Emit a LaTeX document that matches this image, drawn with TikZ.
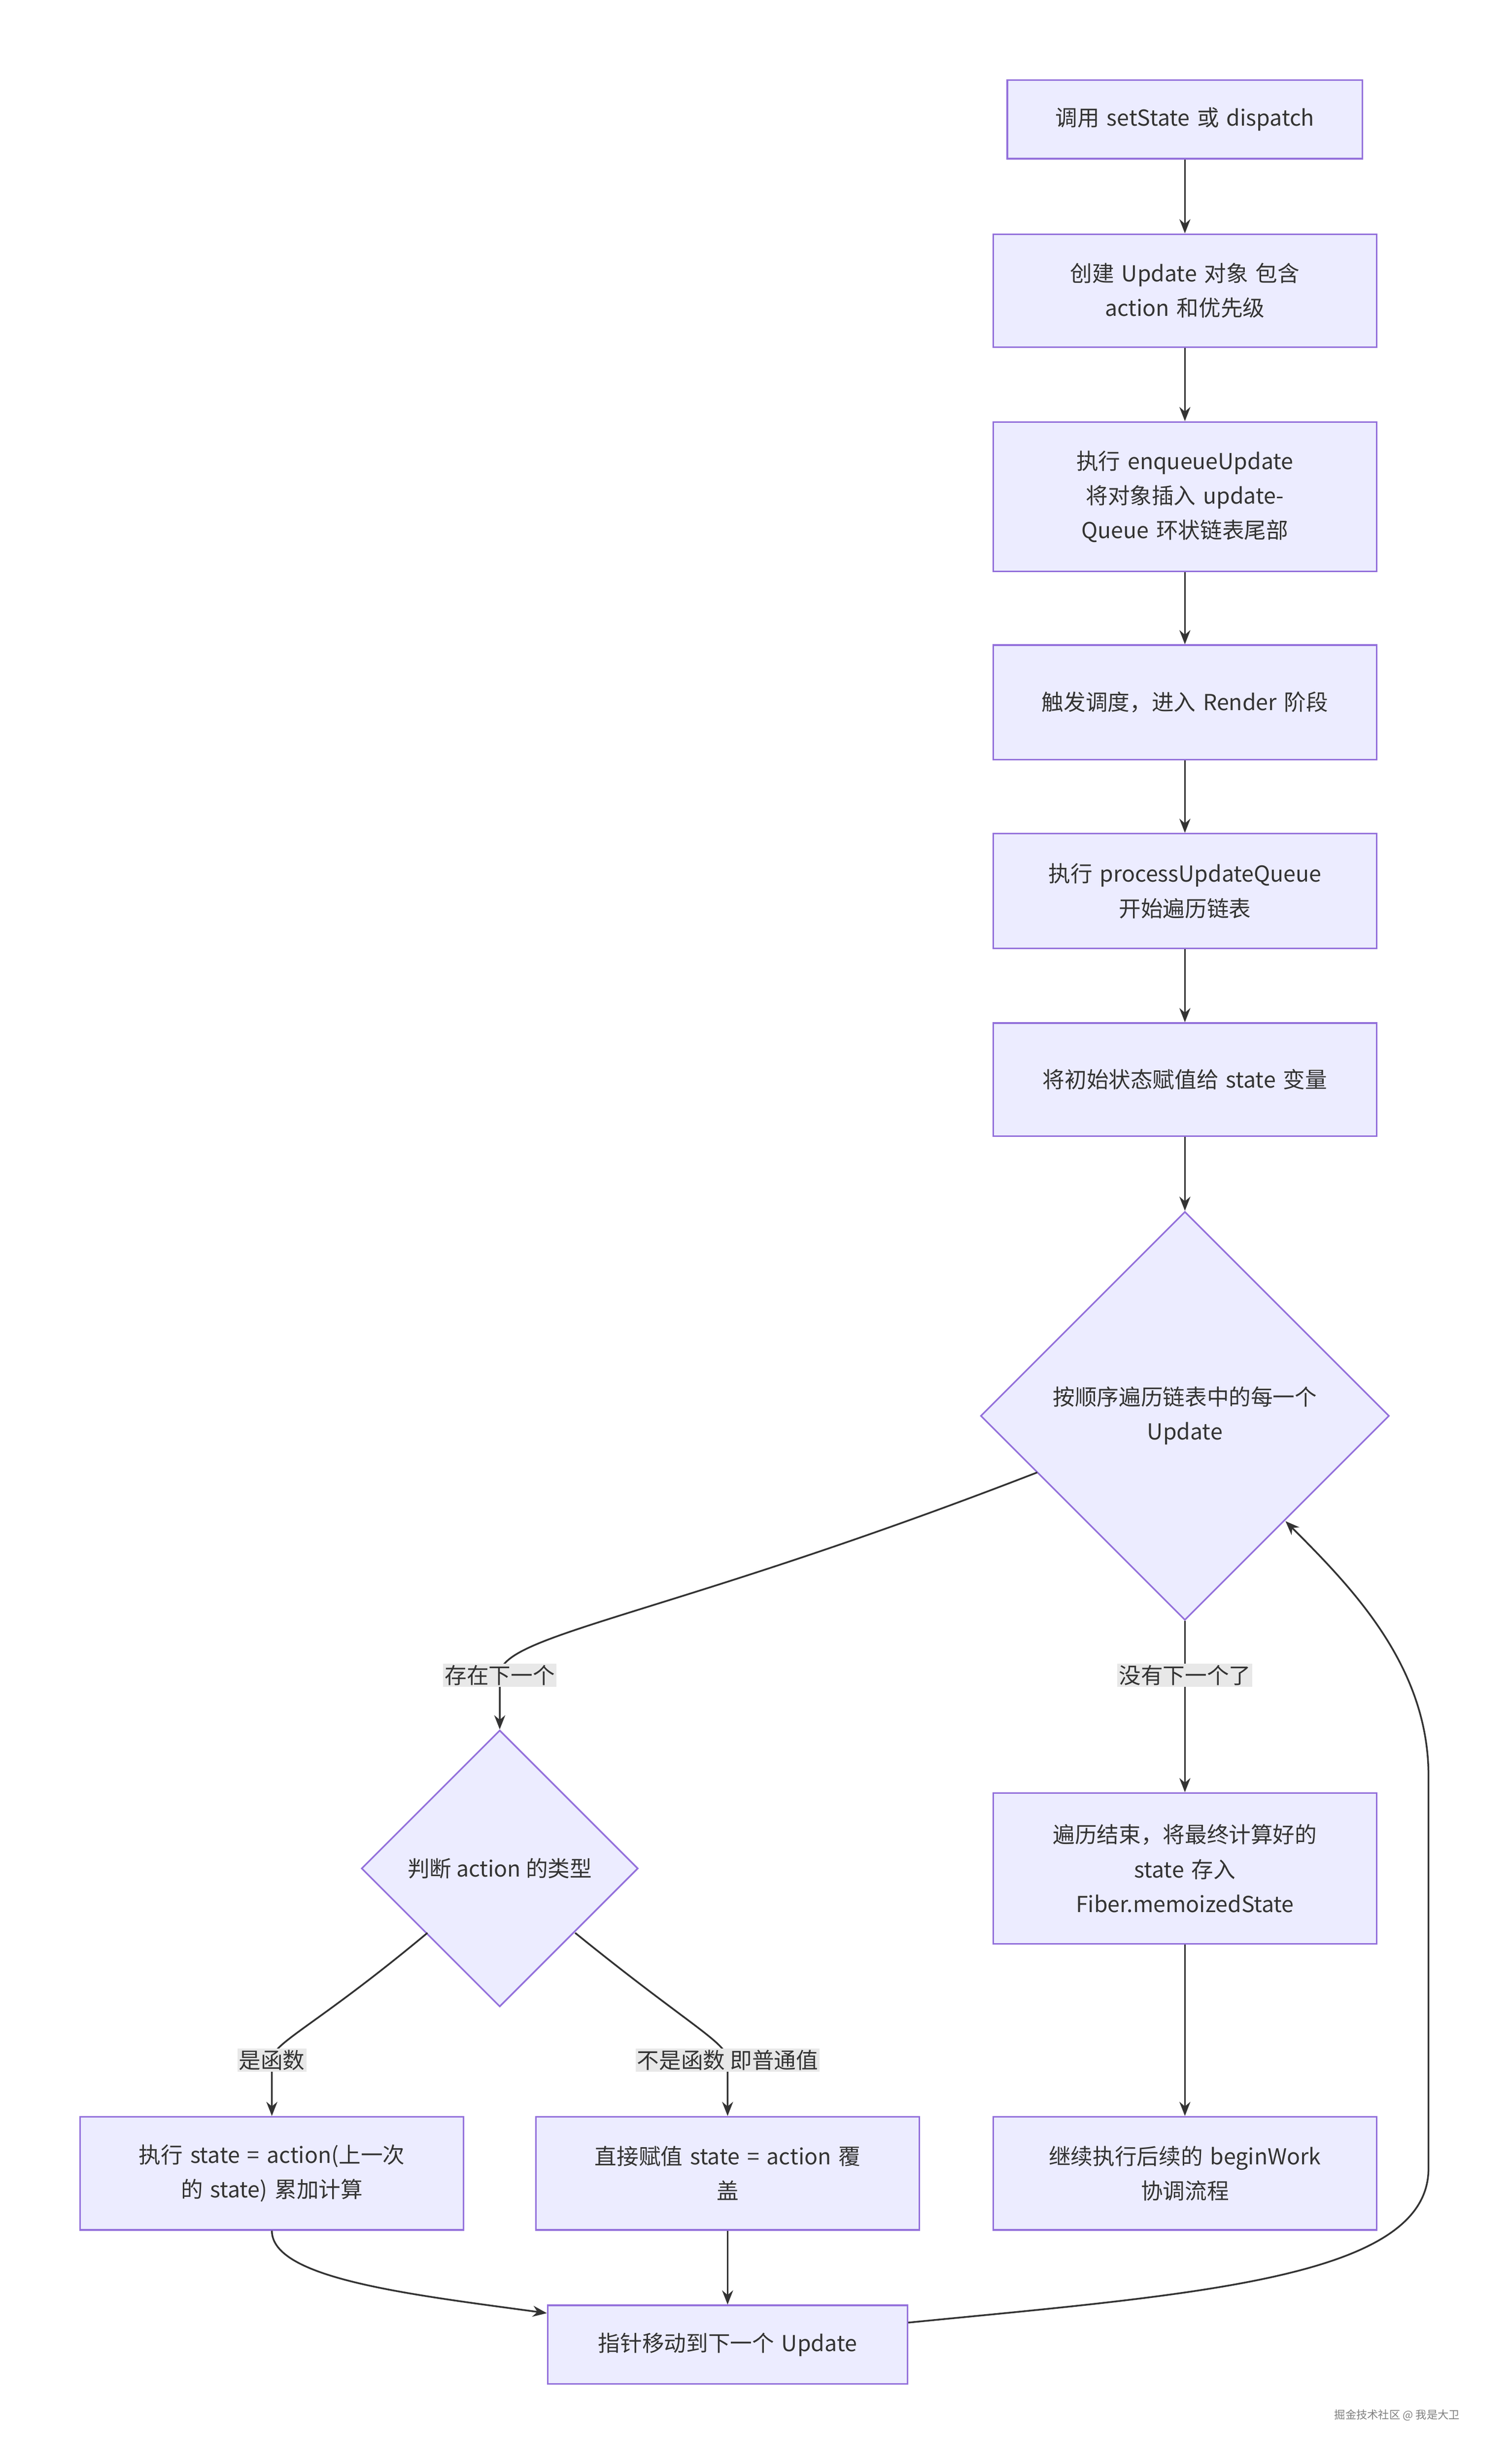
\documentclass[tikz,border=0pt]{standalone}
\usepackage{fontspec}
\setmainfont{Noto Sans CJK SC}
\usetikzlibrary{shapes.geometric,arrows.meta}
\definecolor{boxfill}{HTML}{ECECFF}
\definecolor{boxline}{HTML}{9370DB}
\definecolor{ink}{HTML}{333333}
\definecolor{lblbg}{HTML}{E8E8E8}
\tikzset{
  stepbox/.style={draw=boxline, fill=boxfill, line width=1pt, text=ink,
    minimum width=#1, align=center, text width=190pt, inner sep=0pt},
  stepbox/.default=244pt,
  choice/.style={diamond, draw=boxline, fill=boxfill, line width=1pt, text=ink,
    align=center, inner sep=0pt, aspect=1},
  lbl/.style={fill=lblbg, text=ink, inner sep=1pt},
  flow/.style={draw=ink, line width=1.1pt, -{Stealth[length=9pt,width=7pt]}}
}
\begin{document}
\begin{tikzpicture}[x=1pt, y=-1pt, font=\fontsize{14}{22}\selectfont]
  \useasboundingbox[fill=white] (0,0) rectangle (960,1568);

  \node (call) [stepbox=226pt, minimum height=50pt] at (754,76) {调用 setState 或 dispatch};
  \node (make) [stepbox, minimum height=72pt] at (754,185) {创建 Update 对象 包含\\action 和优先级};
  \node (enq) [stepbox, minimum height=95pt] at (754,316) {执行 enqueueUpdate 将对象插入 updateQueue 环状链表尾部};
  \node (sched) [stepbox, minimum height=73pt] at (754,447) {触发调度，进入 Render 阶段};
  \node (proc) [stepbox, minimum height=73pt] at (754,567) {执行 processUpdateQueue\\开始遍历链表};
  \node (init) [stepbox, minimum height=72pt] at (754,687) {将初始状态赋值给 state 变量};
  \node (loop) [choice, minimum width=260pt, minimum height=260pt, text width=190pt] at (754,901) {按顺序遍历链表中的每一个\\Update};
  \node (kind) [choice, minimum width=176pt, minimum height=176pt] at (318,1189) {判断 action 的类型};
  \node (done) [stepbox, minimum height=96pt] at (754,1189) {遍历结束，将最终计算好的\\state 存入\\Fiber.memoizedState};
  \node (next) [stepbox, minimum height=72pt] at (754,1383) {继续执行后续的 beginWork\\协调流程};
  \node (func) [stepbox, minimum height=72pt] at (173,1383) {执行 state = action(上一次\\的 state) 累加计算};
  \node (plain) [stepbox, minimum height=72pt] at (463,1383) {直接赋值 state = action 覆\\盖};
  \node (move) [stepbox=229pt, minimum height=50pt] at (463,1492) {指针移动到下一个 Update};

  \coordinate (m1) at (318,1066);
  \coordinate (m2) at (173,1311);
  \coordinate (m3) at (463,1311);

  \draw[flow] (call) -- (make);
  \draw[flow] (make) -- (enq);
  \draw[flow] (enq) -- (sched);
  \draw[flow] (sched) -- (proc);
  \draw[flow] (proc) -- (init);
  \draw[flow] (init) -- (loop);
  \draw[flow] (660,937) .. controls (420,1030) and (318,1040) .. (m1) -- (kind.north);
  \draw[flow] (loop.south) -- (done);
  \draw[flow] (done) -- (next);
  \draw[flow] (272,1230) .. controls (200,1290) and (173,1300) .. (m2) -- (func.north);
  \draw[flow] (366,1230) .. controls (440,1290) and (463,1300) .. (m3) -- (plain.north);
  \draw[flow] (func.south) .. controls (173,1450) and (260,1460) .. (move.west |- 0,1472);
  \draw[flow] (plain) -- (move);
  \draw[flow] (move.east |- 0,1478) .. controls (760,1460) and (909,1450) .. (909,1380)
    -- (909,1130) .. controls (909,1060) and (860,1010) .. (818,968);

  \node[lbl] at (m1) {存在下一个};
  \node[lbl] at (754,1066) {没有下一个了};
  \node[lbl] at (m2) {是函数};
  \node[lbl] at (m3) {不是函数 即普通值};

  \node (mark) [text=gray, font=\fontsize{7}{9}\selectfont] at (889,1537) {掘金技术社区 @ 我是大卫};
\end{tikzpicture}
\end{document}
